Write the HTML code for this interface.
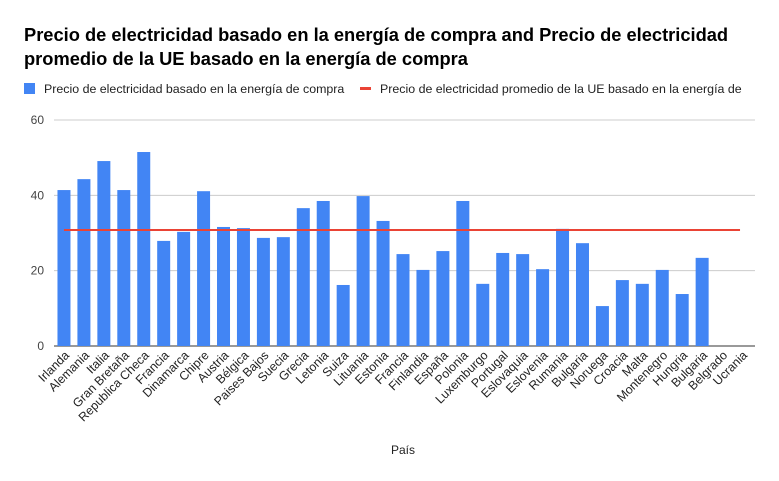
<!DOCTYPE html>
<html><head><meta charset="utf-8"><style>
body{margin:0;background:#fff;font-family:"Liberation Sans",Arial,sans-serif}
svg{display:block}
</style></head><body>
<svg id="c" width="779" height="481" xmlns="http://www.w3.org/2000/svg">
<text x="24" y="41" font-size="18.3" font-weight="bold" fill="#000">Precio de electricidad basado en la energía de compra and Precio de electricidad</text>
<text x="24" y="65" font-size="18.3" font-weight="bold" fill="#000">promedio de la UE basado en la energía de compra</text>
<g>
<rect x="24" y="83" width="11" height="11" fill="#4285f4"/>
<text x="44" y="93" font-size="12.4" fill="#222">Precio de electricidad basado en la energía de compra</text>
<rect x="360" y="87" width="11" height="3" fill="#ea4335"/>
<text x="380" y="93" font-size="12.4" fill="#222">Precio de electricidad promedio de la UE basado en la energía de</text>
</g>
<g id="grid"></g><g id="bars"></g><g id="line"></g><g id="xl"></g>
<text x="403" y="454" font-size="12" text-anchor="middle" fill="#222">País</text>
</svg>
<script>
const categories=["Irlanda","Alemania","Italia","Gran Bretaña","Republica Checa","Francia","Dinamarca","Chipre","Austria","Bélgica","Paises Bajos","Suecia","Grecia","Letonia","Suiza","Lituania","Estonia","Francia","Finlandia","España","Polonia","Luxemburgo","Portugal","Eslovaquia","Eslovenia","Rumania","Bulgaria","Noruega","Croacia","Malta","Montenegro","Hungria","Bulgaria","Belgrado","Ucrania"];
const prices=[41.4,44.3,49.1,41.4,51.5,27.9,30.3,41.1,31.6,31.3,28.7,28.9,36.6,38.5,16.2,39.8,33.2,24.4,20.2,25.2,38.5,16.5,24.7,24.4,20.4,31.1,27.3,10.6,17.5,16.5,20.2,13.8,23.4,0,0];
const euAverage=[30.8];
const yTicks=[0,20,40,60];
const NS="http://www.w3.org/2000/svg";
const L=54,W=698,Y0=346,Y60=120;
const y=v=>Y0-(v/60)*(Y0-Y60);
const step=W/categories.length;
const x=i=>L+step*(i+0.5);
function mk(t,a,p){const e=document.createElementNS(NS,t);for(const k in a)e.setAttribute(k,a[k]);p.appendChild(e);return e;}
const g=document.getElementById('grid');
yTicks.forEach(t=>{
 const ln=mk('line',{x1:L,x2:L+W+3,y1:y(t),y2:y(t),stroke:t===0?'#333':'#ccc','stroke-width':1},g);
 
 
 const tx=mk('text',{x:44,y:y(t)+4,'font-size':12,'text-anchor':'end',fill:'#444'},g);
 tx.textContent=t;
 
 
});
const b=document.getElementById('bars');
prices.forEach((v,i)=>{
 const bw=13;
 const r=mk('rect',{x:x(i)-bw/2,y:y(v),width:bw,height:Y0-y(v),fill:'#4285f4'},b);
 
 
});
const ln=mk('line',{x1:x(0),x2:x(categories.length-1)-2,y1:y(euAverage[0]),y2:y(euAverage[0]),stroke:'#ea4335','stroke-width':2},document.getElementById('line'));


const xl=document.getElementById('xl');
categories.forEach((c,i)=>{
 const ax=x(i)+6;
 const tx=mk('text',{x:ax,y:356,'font-size':12.3,'text-anchor':'end',fill:'#222',transform:`rotate(-45 ${ax} 356)`},xl);
 tx.textContent=c;
 
 
});
</script>
</body></html>
